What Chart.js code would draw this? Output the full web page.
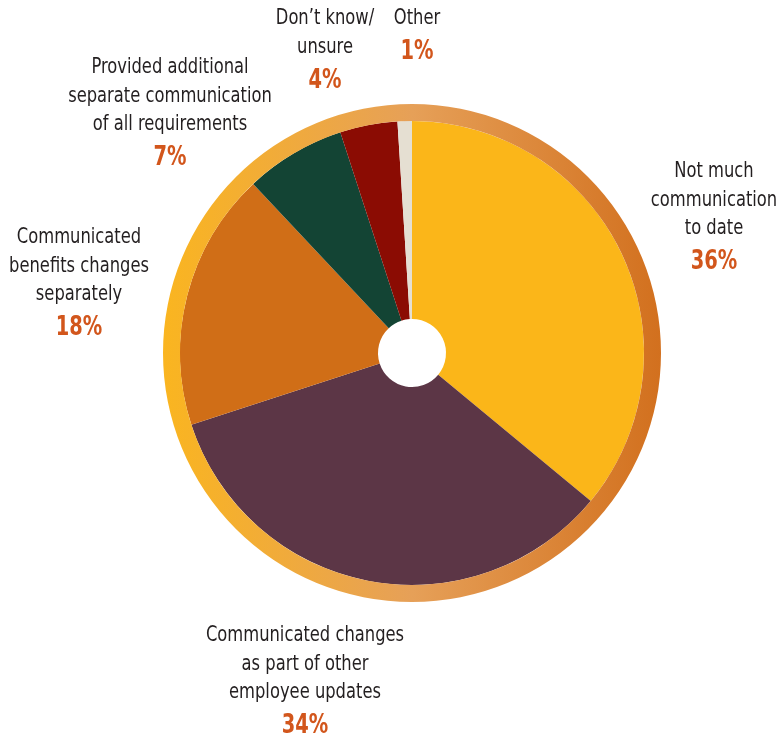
<!DOCTYPE html>
<html>
<head>
<meta charset="utf-8">
<script src="https://cdn.jsdelivr.net/npm/chart.js@4"></script>
<style>
  html, body { margin: 0; padding: 0; background: #fff; }
  canvas { display: block; }
</style>
</head>
<body>
<canvas id="pieChart" width="781" height="740"></canvas>
<script>
// ================= DATA =================
const categories = [
  ["Not much", "communication", "to date"],
  ["Communicated changes", "as part of other", "employee updates"],
  ["Communicated", "benefits changes", "separately"],
  ["Provided additional", "separate communication", "of all requirements"],
  ["Don\u2019t know/", "unsure"],
  ["Other"]
];
const values = [36, 34, 18, 7, 4, 1];
const sliceColors = ["#FBB619", "#5C3646", "#D06E17", "#134434", "#8B0C03", "#E5DFD2"];

// label anchors: centre x and y of first text line
const labelPos = [
  [714, 172],
  [305, 636],
  [79, 238],
  [170, 68],
  [325, 19],
  [417, 19]
];

const TEXT_FONT = "21px 'DejaVu Sans Condensed', 'DejaVu Sans'";
const PCT_FONT = "bold 27px 'DejaVu Sans Condensed', 'DejaVu Sans'";
const TEXT_SQUEEZE = 0.865;
const PCT_SQUEEZE = 0.8;
const LINE_H = 28.5;

// ================= RING GRADIENT =================
function ringGradient(context) {
  const chart = context.chart;
  const area = chart.chartArea;
  if (!area) return "#E7A158";
  const g = chart.ctx.createLinearGradient(area.left, 0, area.right, 0);
  g.addColorStop(0, "#FAB520");
  g.addColorStop(0.5, "#E6A058");
  g.addColorStop(1, "#D2701E");
  return g;
}

// narrow text: squeeze horizontally around the anchor
function squeezedText(c, text, x, y, sx) {
  c.save();
  c.translate(x, y);
  c.scale(sx, 1);
  c.fillText(text, 0, 0);
  c.restore();
}

// ================= LABELS =================
const labelPlugin = {
  id: "sliceLabels",
  afterDraw(chart) {
    const c = chart.ctx;
    c.save();
    c.textAlign = "center";
    c.textBaseline = "middle";
    categories.forEach((lines, i) => {
      const [x, y] = labelPos[i];
      c.font = TEXT_FONT;
      c.fillStyle = "#231F20";
      lines.forEach((t, j) => squeezedText(c, t, x, y + j * LINE_H, TEXT_SQUEEZE));
      c.font = PCT_FONT;
      c.fillStyle = "#D2561C";
      squeezedText(c, values[i] + "%", x, y + (lines.length - 1) * LINE_H + 33, PCT_SQUEEZE);
    });
    c.restore();
  }
};

// ================= CHART =================
new Chart(document.getElementById("pieChart"), {
  type: "doughnut",
  data: {
    labels: categories.map(l => l.join(" ")),
    datasets: [
      {
        data: [100],
        backgroundColor: ringGradient,
        borderWidth: 0,
        weight: 17
      },
      {
        data: values,
        backgroundColor: sliceColors,
        borderWidth: 0,
        weight: 198
      }
    ]
  },
  options: {
    responsive: false,
    animation: false,
    cutout: 34,
    rotation: 0,
    layout: { padding: { left: 163, right: 120, top: 104, bottom: 138 } },
    plugins: {
      legend: { display: false },
      tooltip: { enabled: false }
    }
  },
  plugins: [labelPlugin]
});
</script>
</body>
</html>
